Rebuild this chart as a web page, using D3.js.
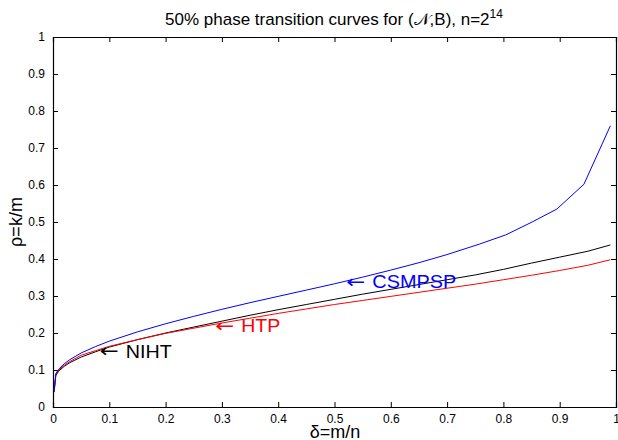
<!DOCTYPE html>
<html>
<head>
<meta charset="utf-8">
<script src="https://cdn.jsdelivr.net/npm/d3@7"></script>
<style>
  body { margin: 0; background: #fff; }
  text { font-family: "Liberation Sans", Arial, sans-serif; }
</style>
</head>
<body>
<svg width="618" height="440"></svg>
<script>
var svg = d3.select('svg');

// data
var deltaGrid = [0.002, 0.005, 0.01, 0.02, 0.03, 0.05, 0.075, 0.1, 0.15, 0.2, 0.25, 0.3, 0.35,
  0.4, 0.45, 0.5, 0.55, 0.6, 0.65, 0.7, 0.75, 0.8, 0.85, 0.9, 0.95, 0.99];
var nihtRho = [0.04, 0.085, 0.097, 0.11, 0.12, 0.135, 0.149, 0.162, 0.182, 0.2, 0.216, 0.232, 0.248,
  0.263, 0.277, 0.291, 0.305, 0.318, 0.331, 0.344, 0.357, 0.372, 0.389, 0.405, 0.421, 0.438];
var htpRho = [0.045, 0.088, 0.1, 0.113, 0.123, 0.14, 0.152, 0.164, 0.182, 0.199, 0.213, 0.227, 0.24,
  0.253, 0.265, 0.277, 0.288, 0.299, 0.31, 0.321, 0.332, 0.344, 0.356, 0.369, 0.383, 0.398];
var csmpspDelta = [0.002, 0.005, 0.01, 0.02, 0.03, 0.05, 0.075, 0.1, 0.15, 0.2, 0.25, 0.3, 0.35,
  0.4, 0.45, 0.5, 0.55, 0.6, 0.65, 0.7, 0.757, 0.804, 0.851, 0.895, 0.943, 0.99];
var csmpspRho = [0.045, 0.09, 0.102, 0.117, 0.128, 0.146, 0.163, 0.178, 0.203, 0.225, 0.245, 0.264, 0.282,
  0.299, 0.316, 0.333, 0.351, 0.37, 0.39, 0.412, 0.44, 0.465, 0.5, 0.535, 0.602, 0.76];
var xTicks = [0, 0.1, 0.2, 0.3, 0.4, 0.5, 0.6, 0.7, 0.8, 0.9, 1];
var yTicks = [0, 0.1, 0.2, 0.3, 0.4, 0.5, 0.6, 0.7, 0.8, 0.9, 1];

var plotLeft = 53, plotRight = 616, plotTop = 37, plotBottom = 407;
var x = d3.scaleLinear().domain([0, 1]).range([plotLeft, plotRight]);
var y = d3.scaleLinear().domain([0, 1]).range([plotBottom, plotTop]);

var fmt = function(d) { return d === 0 || d === 1 ? String(d) : d.toFixed(1); };

// axes with inward ticks (all four sides)
var gx = svg.append('g').attr('transform', 'translate(0,' + plotBottom + ')')
  .call(d3.axisBottom(x).tickValues(xTicks).tickSize(-5).tickPadding(7).tickFormat(fmt));
var gx2 = svg.append('g').attr('transform', 'translate(0,' + plotTop + ')')
  .call(d3.axisTop(x).tickValues(xTicks).tickSize(-5).tickFormat(''));
var gy = svg.append('g').attr('transform', 'translate(' + plotLeft + ',0)')
  .call(d3.axisLeft(y).tickValues(yTicks).tickSize(-5).tickPadding(8).tickFormat(fmt));
var gy2 = svg.append('g').attr('transform', 'translate(' + plotRight + ',0)')
  .call(d3.axisRight(y).tickValues(yTicks).tickSize(-5).tickFormat(''));

[gx, gx2, gy, gy2].forEach(function(g) {
  g.select('.domain').attr('stroke', '#000').attr('stroke-width', 1.2);
  g.selectAll('.tick line').attr('stroke', '#000');
  g.selectAll('.tick text').attr('font-size', 12).attr('fill', '#000')
    .style('font-family', '"Liberation Sans", Arial, sans-serif');
});

var line = d3.line().x(function(d) { return x(d[0]); }).y(function(d) { return y(d[1]); });

var series = [
  { name: 'NIHT', color: '#000', pts: d3.zip(deltaGrid, nihtRho) },
  { name: 'HTP', color: '#ff0000', pts: d3.zip(deltaGrid, htpRho) },
  { name: 'CSMPSP', color: '#0000ff', pts: d3.zip(csmpspDelta, csmpspRho) }
];

series.forEach(function(s) {
  svg.append('path')
    .attr('d', line(s.pts))
    .attr('fill', 'none')
    .attr('stroke', s.color)
    .attr('stroke-width', 1);
});

// annotations: [delta, rho] of the arrow tip, and the width the word takes
var notes = [
  { text: 'CSMPSP', color: '#0000ff', at: [0.521, 0.338], w: 84 },
  { text: 'HTP', color: '#ff0000', at: [0.288, 0.219], w: 39 },
  { text: 'NIHT', color: '#000', at: [0.083, 0.15], w: 46 }
];
notes.forEach(function(n) {
  var g = svg.append('g').attr('transform', 'translate(' + x(n.at[0]) + ',' + y(n.at[1]) + ')');
  g.append('text')
    .attr('dy', '0.33em')
    .attr('font-size', 18)
    .style('font-family', '"DejaVu Sans", sans-serif')
    .attr('fill', n.color)
    .attr('textLength', 19)
    .attr('lengthAdjust', 'spacingAndGlyphs')
    .text('\u2190');
  g.append('text')
    .attr('x', 26)
    .attr('dy', '0.36em')
    .attr('font-size', 18)
    .attr('fill', n.color)
    .attr('textLength', n.w)
    .attr('lengthAdjust', 'spacingAndGlyphs')
    .text(n.text);
});

// title
var title = svg.append('text')
  .attr('x', 334).attr('y', 25)
  .attr('text-anchor', 'middle')
  .attr('font-size', 17);
title.append('tspan').text('50% phase transition curves for (\uD835\uDCA9,B), n=2');
title.append('tspan').attr('dy', -7).attr('font-size', 12).text('14');

svg.append('text')
  .attr('x', 335).attr('y', 438)
  .attr('text-anchor', 'middle')
  .attr('font-size', 18)
  .text('\u03B4=m/n');

svg.append('text')
  .attr('transform', 'translate(22,' + y(0.5) + ') rotate(-90)')
  .attr('text-anchor', 'middle')
  .attr('font-size', 18)
  .text('\u03C1=k/m');
</script>
</body>
</html>
